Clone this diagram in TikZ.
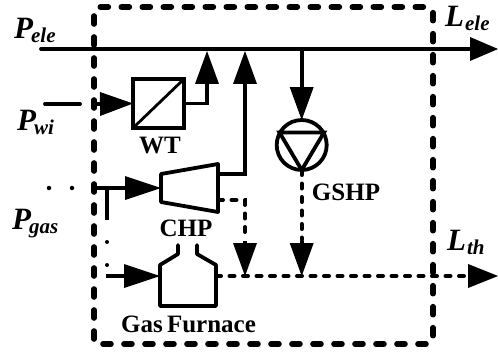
\documentclass[tikz,border=0pt]{standalone}
\usepackage{fontspec}
\setmainfont{Liberation Serif}
\usetikzlibrary{arrows.meta,calc}
\newcommand{\lab}[2]{\bfseries\itshape\fontsize{31}{31}\selectfont #1\kern-2pt\raisebox{-4pt}{\fontsize{21}{21}\selectfont #2}}
\newcommand{\labl}[2]{\bfseries\itshape\fontsize{31}{31}\selectfont #1\kern1pt\raisebox{-4pt}{\fontsize{21}{21}\selectfont #2}}
\tikzset{
  x=1pt,y=-1pt,
  flow/.style={line width=3.8pt,line join=miter},
  heat/.style={line width=4pt,line cap=round,dash pattern=on 5pt off 8.5pt},
  head/.style={-{Triangle[length=#1,width=24pt,line width=0pt]}},
  head/.default=33pt,
  boundary/.style={line width=5.6pt,line cap=round,dash pattern=on 8pt off 13pt,rounded corners=5pt},
  unitbox/.style={draw,line width=3.2pt,minimum width=51pt,minimum height=49pt,inner sep=0pt,outer sep=0pt},
  ghost/.style={inner sep=0pt,outer sep=0pt},
  device/.style={line width=3.8pt,line join=round,line cap=round},
  lbl/.style={inner sep=0pt,anchor=base west},
  devlabel/.style={inner sep=0pt,anchor=base,font=\bfseries\fontsize{25}{25}\selectfont},
}
\begin{document}
\begin{tikzpicture}
\useasboundingbox (0,0) rectangle (498,353);
\fill[white] (0,0) rectangle (498,353);
% system boundary
\draw[boundary] (94,344) -- (94,7) -- (433,7) -- (433,344) -- cycle;
% devices
\node[unitbox] (wt) at (158.5,103.5) {};
\draw[line width=2.8pt] (wt.south west) -- (wt.north east);
\node[ghost,minimum width=57pt,minimum height=48pt] (chp) at (189.5,188) {};
\draw[device] (161,174) -- (218,164) -- (218,212) -- (161,202) -- cycle;
\node[ghost,minimum width=56pt,minimum height=60pt] (gf) at (188,276) {};
\draw[device] (178,245) -- (178,254) -- (160,265) -- (160,306) -- (216,306) -- (216,265) -- (197,254) -- (197,245);
\node[draw,circle,line width=3.8pt,minimum size=50pt,inner sep=0pt,outer sep=0pt] (gshp) at (301.7,145) {};
\draw[device,line join=miter] (279.5,132.5) -- (324,132.5) -- (301.7,170) -- cycle;
% free ends
\coordinate (pelein) at (41,49);
\coordinate (eleout) at (498,49);
\coordinate (wiin) at (45,104);
\coordinate (gasin) at (94,188);
\coordinate (fin) at (106,276);
\coordinate (thout) at (498,276);
\coordinate (busa) at (207,51);
\coordinate (busb) at (245,51);
\coordinate (busc) at (301.7,49);
\coordinate (heatb) at (245,276);
\coordinate (heatc) at (301.7,276);
\coordinate (stubtop) at (107,188);
% electric bus and links
\draw[flow,line cap=round] (pelein) -- (470,49);
\draw[flow,head=28pt] (470,49) -- (eleout);
\draw[line width=3.8pt,line cap=round] (wiin) -- (80,104);
\draw[flow,head] (97,104) -- (wt.west);
\draw[flow,head] (wt.east) -| (busa);
\draw[flow,head] (218,174) -| (busb);
\draw[flow,head] (busc) -- (gshp.north);
% gas links
\draw[flow,head=36pt] (gasin) -- (chp.west);
\draw[flow] (stubtop) -- (107,220);
\draw[line width=4pt,line cap=round,dash pattern=on 0pt off 23pt] (107,242) -- (107,266);
\draw[line width=4.5pt,line cap=round,dash pattern=on 0pt off 23pt] (49,188) -- (73,188);
\draw[flow,head=36pt] (fin) -- (gf.west);
% heat links
\draw[heat] (218,200) -- (245,200) -- (245,240);
\draw[flow,head] (245,241) -- (heatb);
\draw[heat] (gshp.south) -- (301.7,240);
\draw[flow,head] (301.7,241) -- (heatc);
\draw[heat] (gf.east) -- (468,276);
\draw[flow,head=30pt] (468,276) -- (thout);
% labels
\node[lbl] (lp) at (14,39) {\lab{P}{ele}};
\node[lbl] (lw) at (17,130) {\lab{P}{wi}};
\node[lbl] (lg) at (12,229) {\lab{P}{gas}};
\node[lbl] (le) at (445,27) {\labl{L}{ele}};
\node[lbl] (lt) at (447,250) {\labl{L}{th}};
\node[devlabel] (nw) at (160,153) {WT};
\node[devlabel] (nc) at (186,236) {CHP};
\node[devlabel] (ng) at (346,200) {GSHP};
\node[devlabel] (nf) at (188.5,332) {Gas\kern-2pt\ Furnace};
\end{tikzpicture}
\end{document}
